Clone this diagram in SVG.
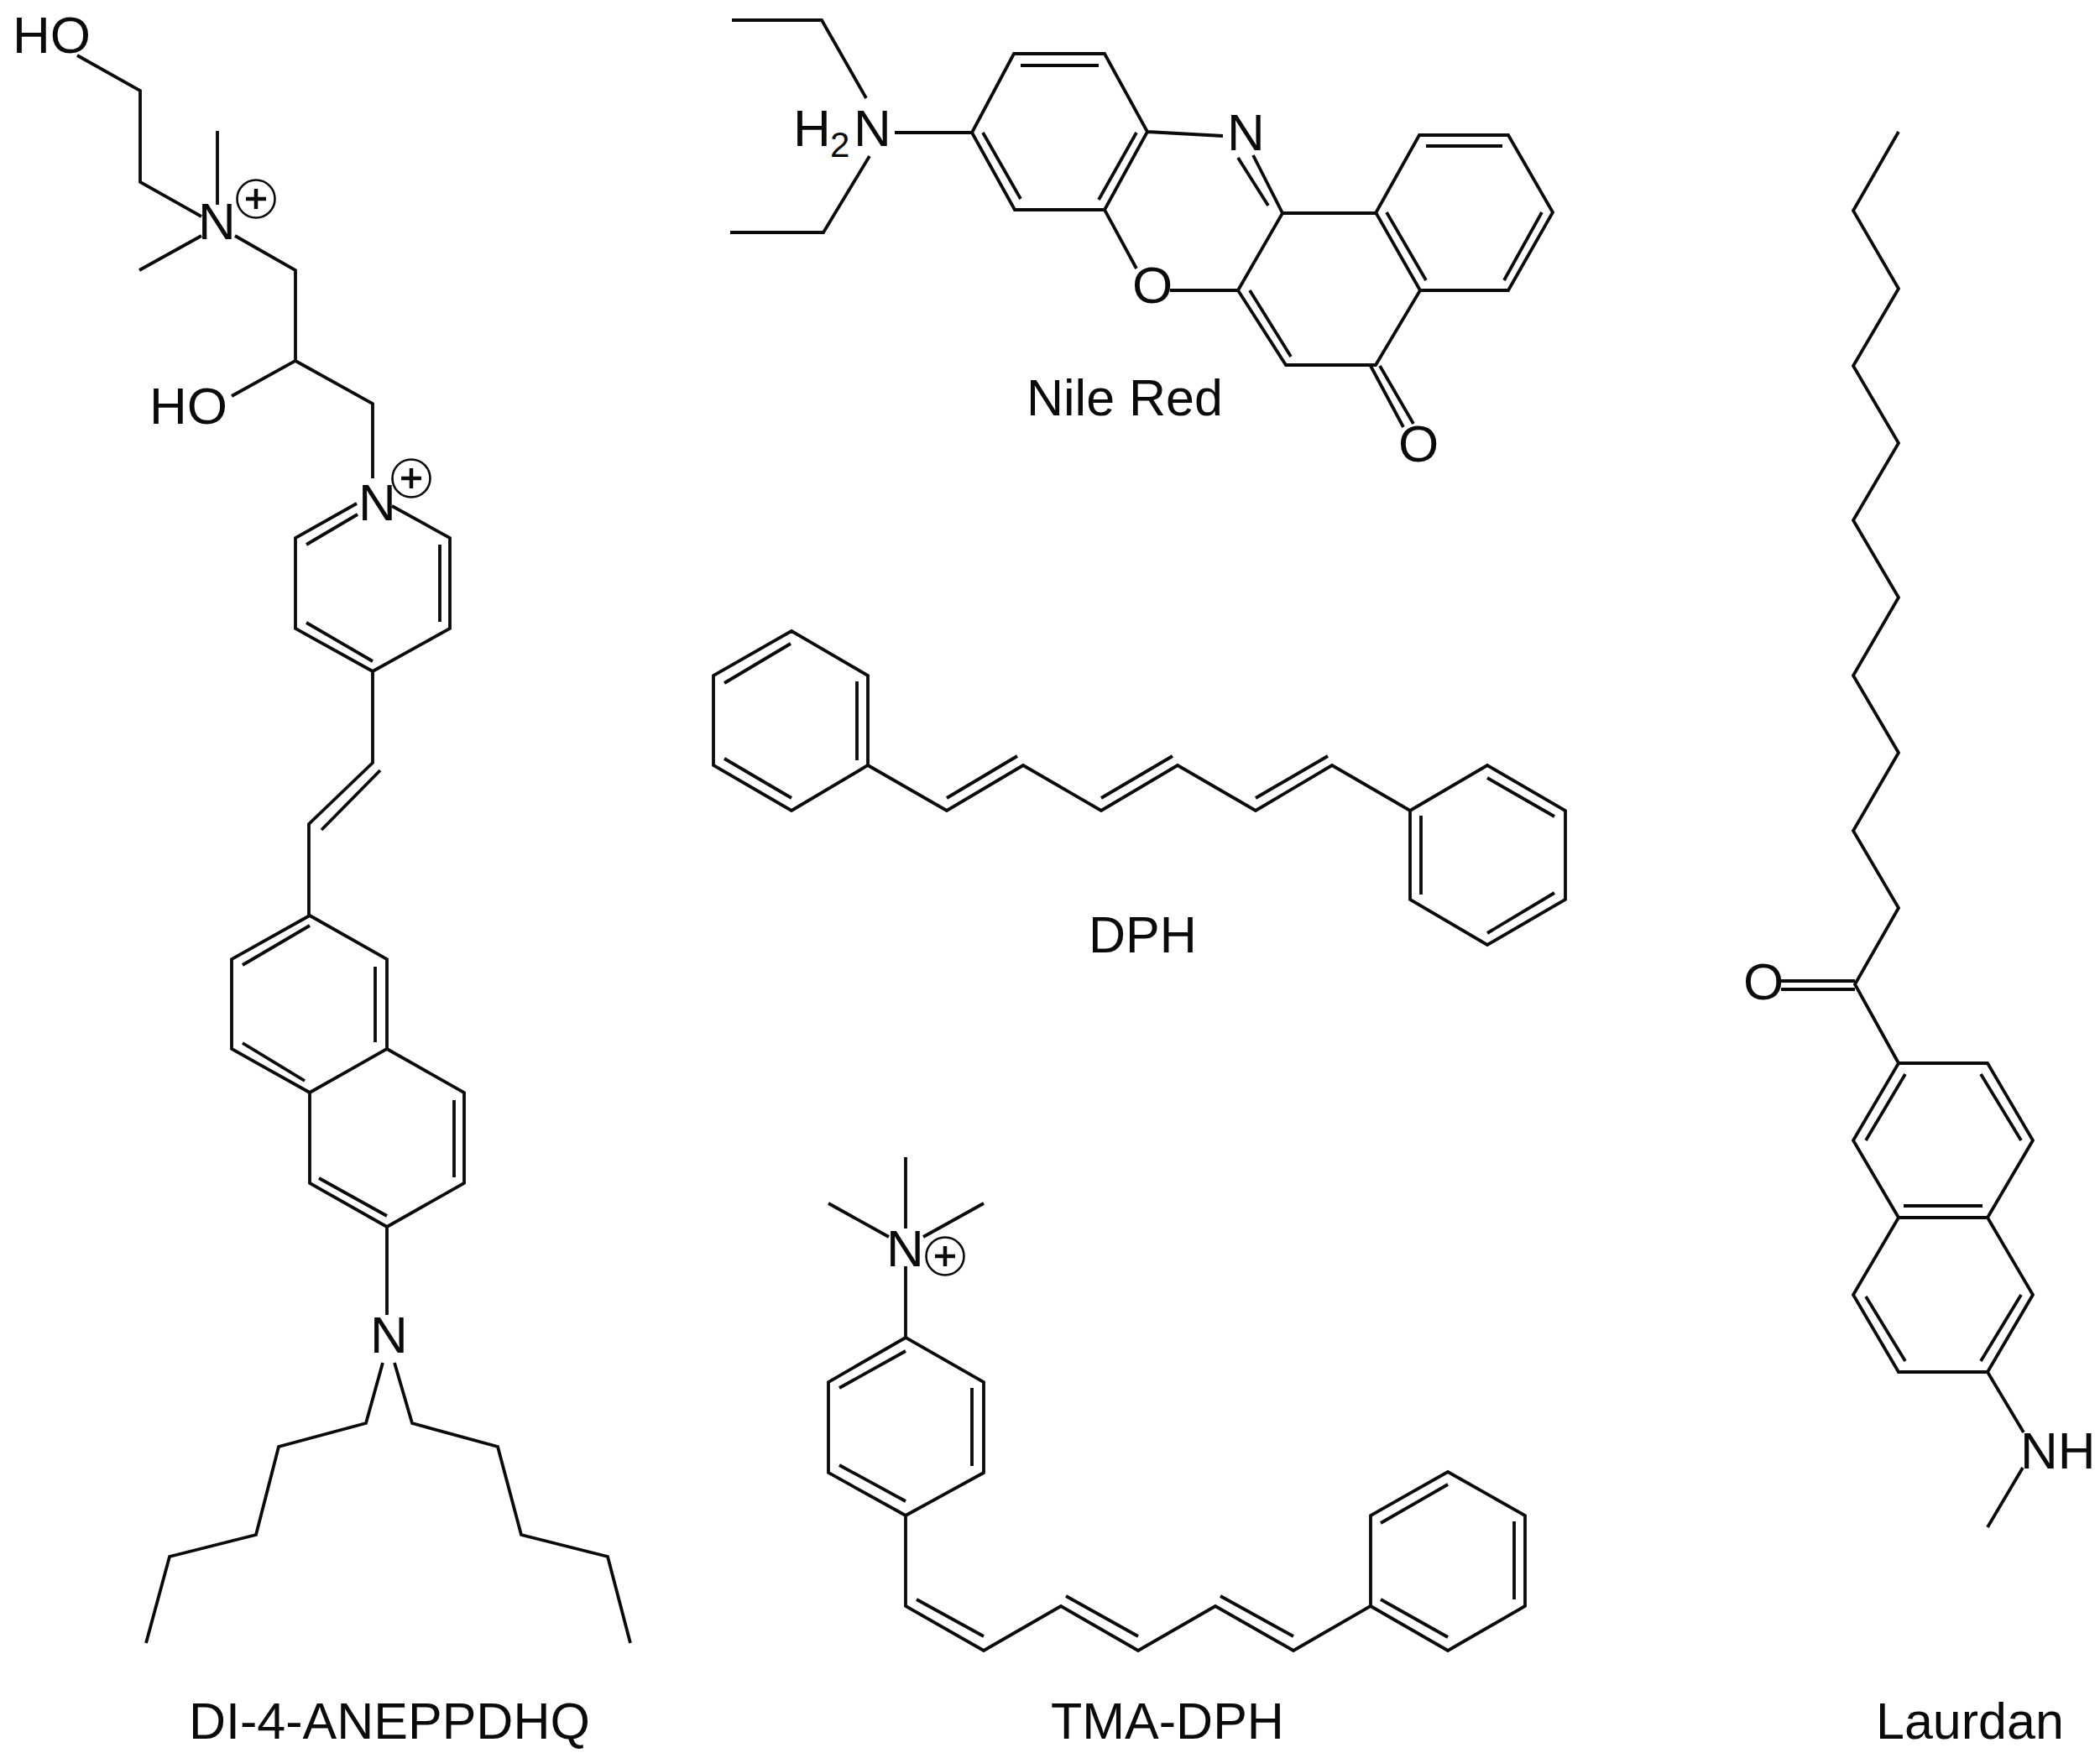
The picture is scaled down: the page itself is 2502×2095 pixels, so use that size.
<svg xmlns="http://www.w3.org/2000/svg" width="2502" height="2095" viewBox="0 0 2502 2095">
<style>
.b{fill:none;stroke:#0a0a0a;stroke-width:3.8;stroke-linejoin:miter;stroke-linecap:butt}
.c{fill:none;stroke:#0a0a0a;stroke-width:2.6}
.p{fill:none;stroke:#0a0a0a;stroke-width:4.5}
text{font-family:"Liberation Sans",Arial,sans-serif;fill:#0a0a0a;font-size:62px}
.l{font-size:61px}
.s{font-size:42px}
</style>
<defs>
<g id="plus"><circle class="c" r="22.5"/><path class="p" d="M-12 0H12M0 -12V12"/></g>
</defs>
<rect width="2502" height="2095" fill="#fff"/>
<g id="di4-anepp">
<path class="b" d="M92 66L167 108V217L240 258M259 156V244M166 322L240 281M280 281L352 322V430L276 472M352 430L444 481V570M467 603L536 641V749L444 800L352 749V641L425 600M365 649L426 613M524 649V741M365 742L444 788M444 800V909L368 982V1091M453 918L383 989M369 1091L461 1143V1250L369 1302L276 1250V1143Z"/>
<path class="b" d="M289 1150L369 1103M447 1152V1242M289 1243L363 1288M461 1250L553 1302V1410L461 1462L369 1410V1302M541 1311V1403M380 1404L461 1449M461 1462V1567M456 1624L436 1696L332 1724L305 1829L202 1855L174 1958M470 1624L491 1696L593 1724L621 1829L724 1855L751 1958"/>
<use href="#plus" x="305" y="237"/>
<use href="#plus" x="490" y="570"/>
<text x="15" y="63">HO</text>
<text x="236" y="285">N</text>
<text x="178" y="505">HO</text>
<text x="427" y="620">N</text>
<text x="441" y="1612">N</text>
<text class="l" x="225" y="2072">DI-4-ANEPPDHQ</text>
</g>
<g id="nile-red">
<path class="b" d="M872 24H979L1032 117M870 277H981L1036 186M1066 158H1158L1208 64H1316L1367 157L1316 250H1209L1158 158M1216 78H1309M1354 158L1309 238M1171 158L1216 237M1367 157L1457 162M1475 188L1511 245M1493 185L1528 254H1639L1691 161H1797L1850 253L1797 346H1692L1639 253M1699 174H1790M1837 253L1792 334M1652 253L1699 334M1692 346L1639 435H1532L1475 346L1528 254M1489 346L1538 425M1394 346H1475M1316 250L1354 320M1633 436L1672 509M1644 436L1684 505"/>
<text x="945" y="174">H</text>
<text class="s" x="989" y="187">2</text>
<text x="1017" y="174">N</text>
<text x="1462" y="179">N</text>
<text x="1349" y="361">O</text>
<text x="1666" y="550">O</text>
<text class="l" x="1223" y="495">Nile Red</text>
</g>
<g id="dph">
<path class="b" d="M943 752L1034 805V912L943 966L850 912V805ZM942 767L863 814M1021 812V906M863 904L943 951M1034 912L1128 966L1219 912L1312 966L1403 912L1496 966L1587 912L1680 966L1772 912L1865 966V1072L1772 1126L1680 1072V966M1128 951L1212 901M1312 951L1397 901M1496 951L1582 901M1772 927L1852 973M1852 1064L1772 1112M1693 972V1066"/>
<text class="l" x="1297" y="1135">DPH</text>
</g>
<g id="tma-dph">
<path class="b" d="M1079 1379V1464M987 1434L1059 1474M1172 1434L1100 1474M1079 1509V1594L1172 1647V1755L1079 1806L987 1755V1647L1079 1594M1079 1610L1000 1654M1158 1654V1747M1000 1746L1079 1789M1079 1806V1914L1172 1967L1264 1914L1356 1967L1448 1914L1541 1967L1633 1914V1806L1725 1754L1817 1806V1914L1725 1967L1633 1914M1092 1906L1172 1950M1270 1902L1356 1950M1454 1902L1541 1950M1645 1815L1725 1769M1804 1813V1906M1645 1906L1725 1951"/>
<use href="#plus" x="1126" y="1497"/>
<text x="1056" y="1509">N</text>
<text class="l" x="1252" y="2072">TMA-DPH</text>
</g>
<g id="laurdan">
<path class="b" d="M2262 157L2208 251L2262 344L2208 436L2262 528L2208 620L2262 712L2208 805L2262 897L2208 990L2262 1082L2210 1173L2262 1267H2368L2422 1359L2368 1451H2262L2208 1359L2262 1267M2122 1169H2210M2122 1179H2210M2270 1280L2223 1359M2360 1280L2408 1359M2268 1437H2362M2262 1451L2208 1543L2262 1635H2368L2422 1543L2368 1451M2223 1545L2270 1622M2408 1543L2360 1622M2368 1635L2411 1707M2410 1749L2368 1820"/>
<text x="2077" y="1191">O</text>
<text x="2407" y="1750">NH</text>
<text class="l" x="2235" y="2072">Laurdan</text>
</g>
</svg>
